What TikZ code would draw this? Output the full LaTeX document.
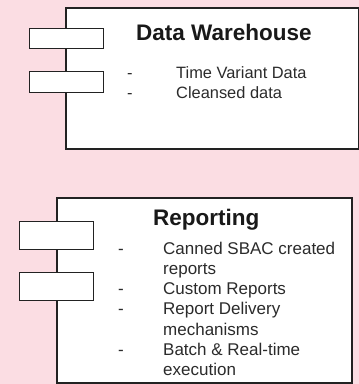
\documentclass[tikz,border=0pt]{standalone}
\usepackage{fontspec}
\setmainfont{Liberation Sans}
\definecolor{pagebg}{HTML}{FBDDE3}
\definecolor{edge}{HTML}{222222}
\definecolor{bodytext}{HTML}{2B2B2B}
\begin{document}
\begin{tikzpicture}[x=1pt,y=-1pt,
  bigbox/.style={draw=edge,fill=white,line width=1.5pt,inner sep=0pt,anchor=north west},
  port/.style={draw=edge,fill=white,line width=1.4pt,inner sep=0pt,anchor=north west,minimum width=74pt},
  heading/.style={anchor=base west,inner sep=0pt,text=black!90,font=\fontsize{22.5}{25}\selectfont\bfseries},
  item/.style={anchor=base west,inner sep=0pt,text=bodytext},
  itemtop/.style={item,font=\fontsize{16.4}{20}\selectfont},
  itembot/.style={item,font=\fontsize{17}{20}\selectfont},
]
% page background
\fill[pagebg] (0,0) rectangle (359,384);
\useasboundingbox (0,0) rectangle (359,384);

% ---- Data Warehouse component ----
\node[bigbox,minimum width=293pt,minimum height=141pt] (dw) at (65,7) {};
\node[port,minimum height=20pt] (dwa) at (29,28) {};
\node[port,minimum height=21pt] (dwb) at (29,71) {};
\node[heading] (dwtitle) at (136,40.7) {Data Warehouse};
\node[itemtop] (dwd1) at (127,78) {-};
\node[itemtop] (dwd2) at (127,98) {-};
\node[itemtop] (dwi1) at (176,78) {Time Variant Data};
\node[itemtop] (dwi2) at (176,98) {Cleansed data};

% ---- Reporting component ----
\node[bigbox,minimum width=295pt,minimum height=185pt] (rp) at (56,197) {};
\node[port,minimum height=28pt] (rpa) at (19,221) {};
\node[port,minimum height=28pt] (rpb) at (19,272) {};
\node[heading] (rptitle) at (153,225) {Reporting};
\node[itembot] (rpd1) at (118,254) {-};
\node[itembot] (rpd2) at (118,294.6) {-};
\node[itembot] (rpd3) at (118,314.9) {-};
\node[itembot] (rpd4) at (118,355.5) {-};
\node[itembot] (rpi1) at (163,254) {Canned SBAC created};
\node[itembot] (rpi1b) at (163,274.3) {reports};
\node[itembot] (rpi2) at (163,294.6) {Custom Reports};
\node[itembot] (rpi3) at (163,314.9) {Report Delivery};
\node[itembot] (rpi3b) at (163,335.2) {mechanisms};
\node[itembot] (rpi4) at (163,355.5) {Batch \& Real-time};
\node[itembot] (rpi4b) at (163,375.8) {execution};
\end{tikzpicture}
\end{document}
